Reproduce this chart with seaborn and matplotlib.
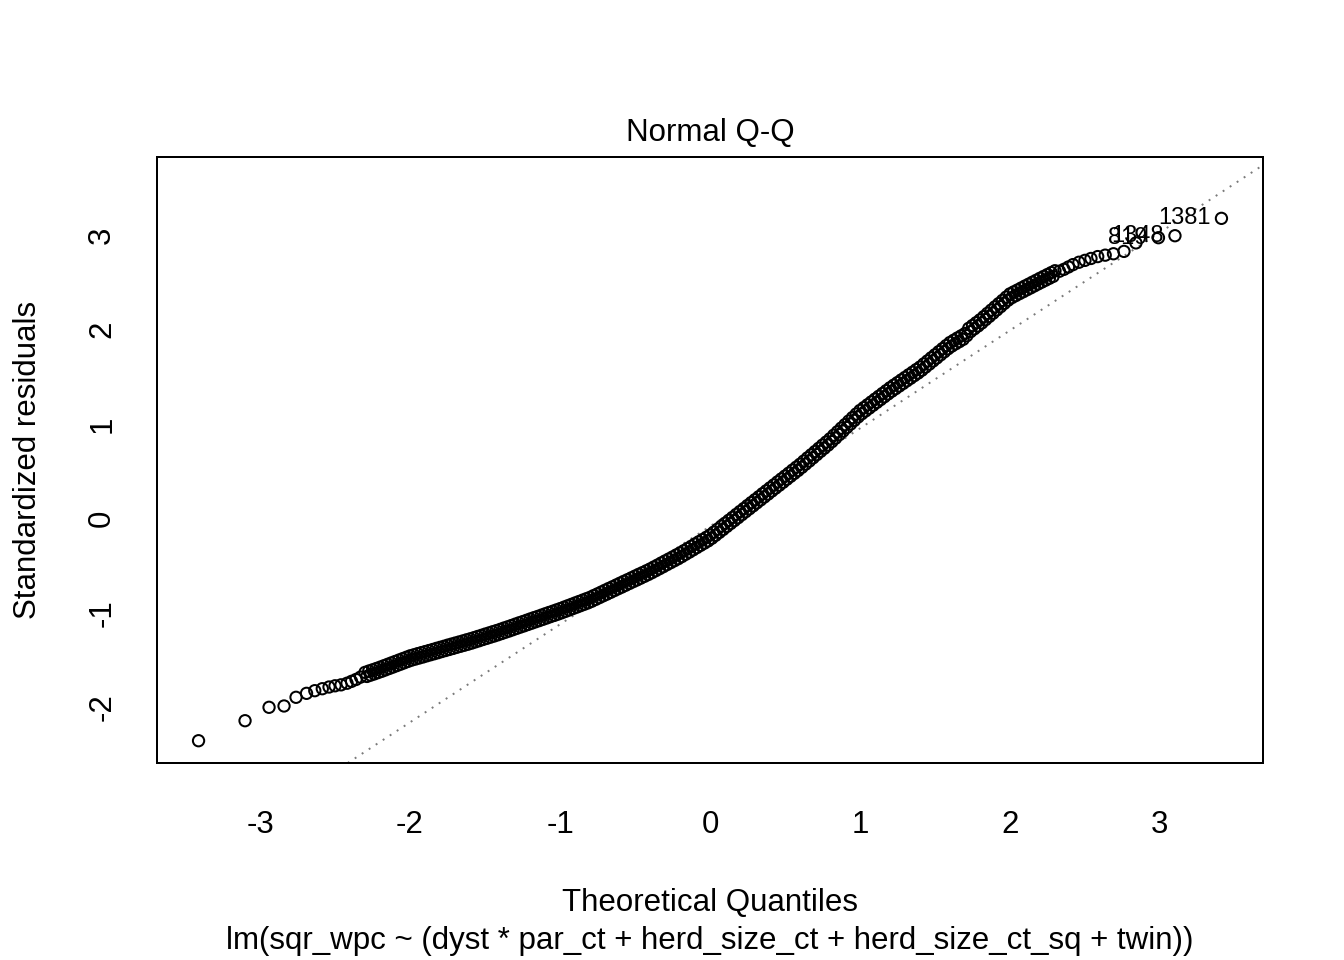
import numpy as np
import pandas as pd
import matplotlib
matplotlib.use("Agg")
import matplotlib.pyplot as plt
import seaborn as sns

# ---------------- data ----------------
# lower tail (individually visible points)
tail_low_q = [-3.41, -3.10, -2.94, -2.84, -2.76, -2.69, -2.635, -2.585, -2.54,
              -2.50, -2.46, -2.42, -2.39, -2.36, -2.33]
tail_low_r = [-2.354, -2.142, -2.000, -1.986, -1.894, -1.852, -1.824, -1.803, -1.785,
              -1.772, -1.762, -1.745, -1.725, -1.705, -1.680]

# dense central band: theoretical quantiles
mid_q = [
    -2.3000, -2.2875, -2.2750, -2.2625, -2.2500, -2.2375, -2.2250, -2.2125,
    -2.2000, -2.1875, -2.1750, -2.1625, -2.1500, -2.1375, -2.1250, -2.1125,
    -2.1000, -2.0875, -2.0750, -2.0625, -2.0500, -2.0375, -2.0250, -2.0125,
    -2.0000, -1.9875, -1.9750, -1.9625, -1.9500, -1.9375, -1.9250, -1.9125,
    -1.9000, -1.8875, -1.8750, -1.8625, -1.8500, -1.8375, -1.8250, -1.8125,
    -1.8000, -1.7875, -1.7750, -1.7625, -1.7500, -1.7375, -1.7250, -1.7125,
    -1.7000, -1.6875, -1.6750, -1.6625, -1.6500, -1.6375, -1.6250, -1.6125,
    -1.6000, -1.5875, -1.5750, -1.5625, -1.5500, -1.5375, -1.5250, -1.5125,
    -1.5000, -1.4875, -1.4750, -1.4625, -1.4500, -1.4375, -1.4250, -1.4125,
    -1.4000, -1.3875, -1.3750, -1.3625, -1.3500, -1.3375, -1.3250, -1.3125,
    -1.3000, -1.2875, -1.2750, -1.2625, -1.2500, -1.2375, -1.2250, -1.2125,
    -1.2000, -1.1875, -1.1750, -1.1625, -1.1500, -1.1375, -1.1250, -1.1125,
    -1.1000, -1.0875, -1.0750, -1.0625, -1.0500, -1.0375, -1.0250, -1.0125,
    -1.0000, -0.9875, -0.9750, -0.9625, -0.9500, -0.9375, -0.9250, -0.9125,
    -0.9000, -0.8875, -0.8750, -0.8625, -0.8500, -0.8375, -0.8250, -0.8125,
    -0.8000, -0.7875, -0.7750, -0.7625, -0.7500, -0.7375, -0.7250, -0.7125,
    -0.7000, -0.6875, -0.6750, -0.6625, -0.6500, -0.6375, -0.6250, -0.6125,
    -0.6000, -0.5875, -0.5750, -0.5625, -0.5500, -0.5375, -0.5250, -0.5125,
    -0.5000, -0.4875, -0.4750, -0.4625, -0.4500, -0.4375, -0.4250, -0.4125,
    -0.4000, -0.3875, -0.3750, -0.3625, -0.3500, -0.3375, -0.3250, -0.3125,
    -0.3000, -0.2875, -0.2750, -0.2625, -0.2500, -0.2375, -0.2250, -0.2125,
    -0.2000, -0.1875, -0.1750, -0.1625, -0.1500, -0.1375, -0.1250, -0.1125,
    -0.1000, -0.0875, -0.0750, -0.0625, -0.0500, -0.0375, -0.0250, -0.0125,
    0.0000, 0.0125, 0.0250, 0.0375, 0.0500, 0.0625, 0.0750, 0.0875,
    0.1000, 0.1125, 0.1250, 0.1375, 0.1500, 0.1625, 0.1750, 0.1875,
    0.2000, 0.2125, 0.2250, 0.2375, 0.2500, 0.2625, 0.2750, 0.2875,
    0.3000, 0.3125, 0.3250, 0.3375, 0.3500, 0.3625, 0.3750, 0.3875,
    0.4000, 0.4125, 0.4250, 0.4375, 0.4500, 0.4625, 0.4750, 0.4875,
    0.5000, 0.5125, 0.5250, 0.5375, 0.5500, 0.5625, 0.5750, 0.5875,
    0.6000, 0.6125, 0.6250, 0.6375, 0.6500, 0.6625, 0.6750, 0.6875,
    0.7000, 0.7125, 0.7250, 0.7375, 0.7500, 0.7625, 0.7750, 0.7875,
    0.8000, 0.8125, 0.8250, 0.8375, 0.8500, 0.8625, 0.8750, 0.8875,
    0.9000, 0.9125, 0.9250, 0.9375, 0.9500, 0.9625, 0.9750, 0.9875,
    1.0000, 1.0125, 1.0250, 1.0375, 1.0500, 1.0625, 1.0750, 1.0875,
    1.1000, 1.1125, 1.1250, 1.1375, 1.1500, 1.1625, 1.1750, 1.1875,
    1.2000, 1.2125, 1.2250, 1.2375, 1.2500, 1.2625, 1.2750, 1.2875,
    1.3000, 1.3125, 1.3250, 1.3375, 1.3500, 1.3625, 1.3750, 1.3875,
    1.4000, 1.4125, 1.4250, 1.4375, 1.4500, 1.4625, 1.4750, 1.4875,
    1.5000, 1.5125, 1.5250, 1.5375, 1.5500, 1.5625, 1.5750, 1.5875,
    1.6000, 1.6125, 1.6250, 1.6375, 1.6500, 1.6625, 1.6750, 1.6875,
    1.7000, 1.7125, 1.7250, 1.7375, 1.7500, 1.7625, 1.7750, 1.7875,
    1.8000, 1.8125, 1.8250, 1.8375, 1.8500, 1.8625, 1.8750, 1.8875,
    1.9000, 1.9125, 1.9250, 1.9375, 1.9500, 1.9625, 1.9750, 1.9875,
    2.0000, 2.0125, 2.0250, 2.0375, 2.0500, 2.0625, 2.0750, 2.0875,
    2.1000, 2.1125, 2.1250, 2.1375, 2.1500, 2.1625, 2.1750, 2.1875,
    2.2000, 2.2125, 2.2250, 2.2375, 2.2500, 2.2625, 2.2750, 2.2875,
    2.3000,
]
# dense central band: standardized residuals
mid_r = [
    -1.630, -1.673, -1.616, -1.659, -1.603, -1.646, -1.589, -1.632,
    -1.575, -1.618, -1.560, -1.603, -1.545, -1.588, -1.530, -1.573,
    -1.515, -1.558, -1.500, -1.543, -1.485, -1.528, -1.470, -1.513,
    -1.455, -1.499, -1.444, -1.488, -1.432, -1.477, -1.421, -1.466,
    -1.410, -1.454, -1.399, -1.443, -1.388, -1.432, -1.376, -1.421,
    -1.365, -1.409, -1.354, -1.398, -1.342, -1.387, -1.331, -1.376,
    -1.320, -1.364, -1.309, -1.353, -1.298, -1.342, -1.286, -1.331,
    -1.275, -1.319, -1.263, -1.306, -1.250, -1.294, -1.238, -1.281,
    -1.225, -1.269, -1.213, -1.256, -1.200, -1.244, -1.188, -1.231,
    -1.175, -1.218, -1.161, -1.204, -1.148, -1.191, -1.134, -1.177,
    -1.120, -1.163, -1.106, -1.149, -1.093, -1.136, -1.079, -1.122,
    -1.065, -1.108, -1.051, -1.094, -1.038, -1.081, -1.024, -1.067,
    -1.010, -1.053, -0.996, -1.039, -0.983, -1.026, -0.969, -1.012,
    -0.955, -0.998, -0.940, -0.983, -0.925, -0.968, -0.910, -0.953,
    -0.895, -0.938, -0.880, -0.923, -0.865, -0.908, -0.850, -0.893,
    -0.835, -0.876, -0.816, -0.857, -0.798, -0.838, -0.779, -0.819,
    -0.760, -0.801, -0.741, -0.782, -0.723, -0.763, -0.704, -0.744,
    -0.685, -0.726, -0.666, -0.707, -0.648, -0.688, -0.629, -0.669,
    -0.610, -0.651, -0.591, -0.632, -0.573, -0.613, -0.554, -0.594,
    -0.535, -0.574, -0.514, -0.553, -0.493, -0.532, -0.471, -0.511,
    -0.450, -0.489, -0.429, -0.468, -0.408, -0.447, -0.386, -0.426,
    -0.365, -0.403, -0.341, -0.379, -0.318, -0.356, -0.294, -0.332,
    -0.270, -0.308, -0.246, -0.284, -0.223, -0.261, -0.199, -0.237,
    -0.175, -0.209, -0.144, -0.178, -0.113, -0.147, -0.081, -0.116,
    -0.050, -0.084, -0.019, -0.053, 0.012, -0.022, 0.044, 0.009,
    0.075, 0.041, 0.106, 0.072, 0.138, 0.103, 0.169, 0.134,
    0.200, 0.166, 0.231, 0.197, 0.263, 0.228, 0.294, 0.259,
    0.325, 0.291, 0.356, 0.322, 0.388, 0.353, 0.419, 0.384,
    0.450, 0.416, 0.481, 0.447, 0.513, 0.478, 0.544, 0.509,
    0.575, 0.542, 0.609, 0.576, 0.643, 0.609, 0.676, 0.643,
    0.710, 0.677, 0.744, 0.711, 0.778, 0.744, 0.811, 0.778,
    0.845, 0.814, 0.883, 0.851, 0.920, 0.889, 0.958, 0.926,
    0.995, 0.964, 1.033, 1.001, 1.070, 1.039, 1.108, 1.076,
    1.145, 1.110, 1.175, 1.140, 1.205, 1.170, 1.235, 1.200,
    1.265, 1.230, 1.295, 1.260, 1.325, 1.290, 1.355, 1.320,
    1.385, 1.349, 1.413, 1.376, 1.440, 1.404, 1.468, 1.431,
    1.495, 1.459, 1.523, 1.486, 1.550, 1.514, 1.578, 1.541,
    1.605, 1.571, 1.638, 1.604, 1.670, 1.636, 1.703, 1.669,
    1.735, 1.701, 1.768, 1.734, 1.800, 1.766, 1.833, 1.799,
    1.865, 1.827, 1.889, 1.851, 1.913, 1.874, 1.936, 1.898,
    1.960, 1.937, 2.015, 1.980, 2.045, 2.010, 2.075, 2.040,
    2.105, 2.072, 2.139, 2.107, 2.174, 2.141, 2.208, 2.175,
    2.243, 2.210, 2.277, 2.244, 2.311, 2.279, 2.346, 2.313,
    2.380, 2.340, 2.401, 2.361, 2.421, 2.382, 2.442, 2.402,
    2.463, 2.423, 2.483, 2.443, 2.504, 2.464, 2.524, 2.485,
    2.545, 2.505, 2.565, 2.525, 2.585, 2.545, 2.605, 2.565,
    2.625,
]

# upper tail (individually visible points)
tail_high_q = [2.33, 2.36, 2.39, 2.42, 2.46, 2.50, 2.54, 2.585, 2.635, 2.69,
               2.76, 2.84, 2.99, 3.10, 3.41]
tail_high_r = [2.620, 2.640, 2.665, 2.690, 2.715, 2.735, 2.755, 2.775, 2.790, 2.805,
               2.830, 2.920, 2.975, 2.996, 3.180]

# identified observations
id_labels = ["1381", "1348", "819"]
id_q = [3.41, 3.10, 2.99]
id_r = [3.180, 2.996, 2.975]

# reference line (qqline)
qqline_intercept = -0.083
qqline_slope = 1.038

x_ticks = [-3, -2, -1, 0, 1, 2, 3]
y_ticks = [-2, -1, 0, 1, 2, 3]

title = "Normal Q-Q"
x_label = "Theoretical Quantiles"
y_label = "Standardized residuals"
subtitle = "lm(sqr_wpc ~ (dyst * par_ct + herd_size_ct + herd_size_ct_sq + twin))"

# ---------------- plotting ----------------
sns.set_theme(style="white")
plt.rcParams["font.family"] = ["Liberation Sans", "DejaVu Sans"]
plt.rcParams["axes.unicode_minus"] = False
plt.rcParams["text.color"] = "black"

df = pd.DataFrame({
    "q": tail_low_q + mid_q + tail_high_q,
    "r": tail_low_r + mid_r + tail_high_r,
})

W, H = 1344, 960
fig = plt.figure(figsize=(W / 100, H / 100), dpi=100)
ax = fig.add_axes([157 / W, (H - 763) / H, (1263 - 157) / W, (763 - 157) / H])

ax.axline((0, qqline_intercept), slope=qqline_slope, color="#7a7a7a",
          lw=1.4, linestyle=(0, (1, 3.3)), zorder=1)

sns.scatterplot(data=df, x="q", y="r", ax=ax, marker="o", s=66,
                facecolor="none", edgecolor="black", linewidth=1.45, zorder=2,
                legend=False)

for lab, qx, ry in zip(id_labels, id_q, id_r):
    ax.annotate(lab, (qx, ry), xytext=(-8, 0), textcoords="offset points",
                ha="right", va="center", fontsize=17, color="black")

ax.set_xlim(-3.687, 3.687)
ax.set_ylim(-2.59, 3.83)
ax.set_xticks(x_ticks)
ax.set_xticklabels([str(t) for t in x_ticks])
ax.set_yticks(y_ticks)
ax.set_yticklabels([str(t) for t in y_ticks])
ax.tick_params(axis="both", direction="out", length=13.7, width=1.44,
               color="black", labelsize=22.5, labelcolor="black")
ax.tick_params(axis="x", pad=19.8)
ax.tick_params(axis="y", pad=15, labelrotation=90)
for lbl in ax.get_yticklabels():
    lbl.set_verticalalignment("center")
ax.set_xlabel("")
ax.set_ylabel("")
for sp in ax.spines.values():
    sp.set_visible(True)
    sp.set_color("black")
    sp.set_linewidth(1.44)

fig.text(710 / W, 1 - 133 / H, title, ha="center", va="center", fontsize=22.5,
         color="black")
fig.text(710 / W, 1 - 903 / H, x_label, ha="center", va="center", fontsize=22.5,
         color="black")
fig.text(710 / W, 1 - 941 / H, subtitle, ha="center", va="center", fontsize=22.5,
         color="black")
fig.text(28 / W, 1 - 460 / H, y_label, ha="center", va="center", fontsize=22.5,
         rotation=90, color="black")

fig.savefig("out.png", dpi=100, facecolor="white")
